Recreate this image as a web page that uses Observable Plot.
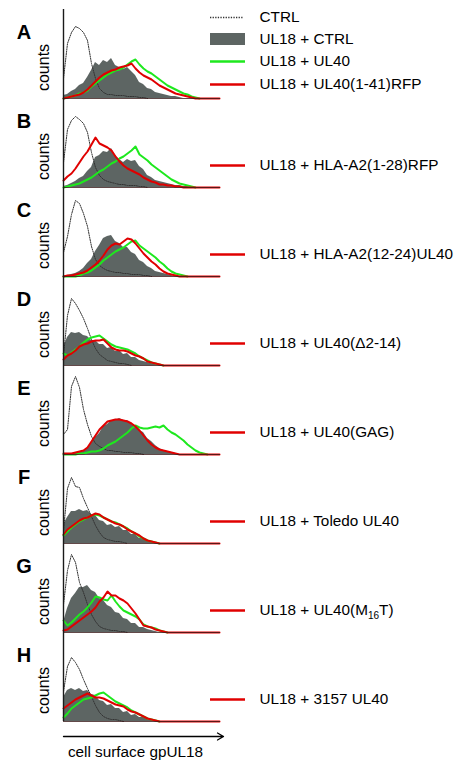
<!DOCTYPE html>
<html><head><meta charset="utf-8">
<script src="https://cdn.jsdelivr.net/npm/d3@7"></script>
<script src="https://cdn.jsdelivr.net/npm/@observablehq/plot@0.6"></script>
<style>
body{margin:0;background:#fff}
#chart{width:455px;height:762px}
</style>
</head><body><div id="chart"></div>
<script>
// ---------- data ----------
const panels = ["A","B","C","D","E","F","G","H"];
const legendLabels = ["CTRL","UL18 + CTRL","UL18 + UL40"];
const variantLabels = [
  "UL18 + UL40(1-41)RFP",
  "UL18 + HLA-A2(1-28)RFP",
  "UL18 + HLA-A2(12-24)UL40",
  "UL18 + UL40(\u03942-14)",
  "UL18 + UL40(GAG)",
  "UL18 + Toledo UL40",
  "UL18 + UL40(M16T)",
  "UL18 + 3157 UL40"
];
const axisLabel = "counts";
const xAxisLabel = "cell surface gpUL18";
// fluorescence channel bins (arbitrary units, left to right)
const bins = [0,4,8,12,16,20,24,28,32,36,40,44,48,52,56,60,64,68,72,76,
              80,84,88,92,96,100,104,108,112,116,120,124,128,132,136,140,144,148,152,156];

// CTRL (dotted)
const ctrlCounts = [
  [20,55,66,72,70,66,58,35,20,10,6,4,4,3,3,3,2,2,2,1,1,0],
  [25,58,67,71,68,64,55,35,20,12,8,6,5,4,3,3,2,2,2,1,1,0],
  [24,40,62,76,73,63,50,30,17,11,8,6,5,4,4,3,3,2,2,2,1,1,0],
  [10,50,67,62,55,47,37,26,17,11,8,5,4,3,2,2,1,0],
  [20,25,68,78,67,45,30,18,11,8,6,4,4,3,3,2,2,2,1,1,0],
  [13,55,66,57,56,45,36,27,18,11,6,4,3,2,2,1,0],
  [28,62,78,70,50,40,28,18,11,6,4,3,2,2,1,1,0],
  [30,55,64,59,52,42,33,25,16,9,5,3,2,2,1,0]
];
// UL18 + CTRL (grey filled)
const ul18CtrlCounts = [
  [3,4,7,9,13,15,21,28,36,33,38,36,40,33,31,29,31,27,23,16,14,10,9,6,5,4,3,2,2,1,0],
  [1,2,4,6,9,11,16,20,30,32,36,35,39,32,28,25,28,26,27,21,18,12,10,7,6,5,4,3,2,2,1,1,0],
  [0,1,2,3,5,8,13,17,25,31,38,40,41,35,33,29,29,24,22,16,14,10,8,5,4,3,2,1,0],
  [18,28,33,32,33,30,29,25,25,21,21,17,18,14,15,11,12,8,8,5,4,3,2,1,0],
  [0,0,1,1,2,3,6,11,17,21,28,30,34,34,36,34,34,30,29,24,22,16,13,9,6,4,3,2,1,0],
  [19,26,32,32,34,32,33,29,28,23,22,18,19,16,17,13,13,9,9,5,5,3,2,1,0],
  [10,24,34,39,45,45,47,42,40,34,32,27,25,20,19,14,13,9,9,5,5,3,2,1,0],
  [24,31,33,31,33,30,31,27,26,21,20,16,17,13,13,9,10,6,7,4,4,2,1,0]
];
// UL18 + UL40 (green)
const ul40Counts = [
  [0,1,2,3,5,6,8,12,15,18,21,24,26,28,29,31,34,37,39,34,30,27,25,22,19,16,13,11,9,7,5,4,2,1,0],
  [0,1,2,3,4,6,8,10,13,16,18,21,24,26,29,31,34,37,41,33,30,27,23,20,17,14,11,8,6,4,3,2,1,0],
  [0,0,0,0,1,3,4,6,9,12,16,19,22,25,27,29,32,35,36,31,28,25,22,19,15,12,8,5,3,2,1,0],
  [12,10,13,16,19,23,26,28,29,30,27,24,21,19,18,17,16,14,12,9,7,5,3,2,1,0],
  [0,0,0,0,1,1,2,3,3,4,6,9,11,13,16,19,22,26,29,27,26,26,27,28,27,29,25,22,20,17,14,10,7,4,2,1,0],
  [8,12,16,19,22,24,26,28,29,28,26,24,22,21,19,17,15,12,10,7,5,3,2,1,0],
  [12,7,10,14,18,21,25,30,36,35,33,32,37,31,26,22,20,18,16,13,8,6,5,4,2,1,0],
  [4,8,13,16,19,22,23,24,26,28,29,26,23,20,18,16,14,11,9,7,5,3,2,1,0]
];
// UL18 + variant (red)
const variantCounts = [
  [0,1,2,3,4,6,9,13,17,21,24,26,28,29,31,32,33,35,30,26,23,21,19,16,13,11,9,7,5,4,3,2,1,0],
  [7,11,14,19,25,31,36,43,50,44,42,40,37,31,26,22,19,17,15,13,10,8,6,5,3,3,2,2,1,1,0],
  [0,1,1,2,3,4,6,9,12,16,21,27,31,33,32,35,38,37,33,28,23,19,15,12,8,5,3,2,1,0],
  [6,10,12,15,19,21,22,24,25,25,26,22,18,16,15,15,14,12,10,9,7,4,3,2,1,0],
  [1,1,1,2,3,4,7,13,19,25,29,33,34,35,35,34,33,31,28,24,19,14,10,7,5,4,3,2,1,0],
  [9,14,17,20,23,25,26,28,30,29,26,24,22,20,19,17,14,12,10,8,5,3,2,1,0],
  [2,3,6,9,12,15,18,21,25,31,35,41,37,37,34,32,29,24,19,13,7,6,5,3,2,1,0],
  [13,16,19,22,24,26,28,26,24,24,23,21,19,17,16,15,12,10,9,7,5,3,2,1,0]
];

// ---------- build tables ----------
function toRows(series, padToEnd) {
  const out = [];
  panels.forEach((p, k) => {
    const vals = series[k];
    const n = padToEnd ? bins.length : vals.length;
    for (let i = 0; i < n; i++) out.push({panel: p, x: bins[i], y: i < vals.length ? vals[i] : 0});
  });
  return out;
}
const ctrlRows = toRows(ctrlCounts, false);
const greyRows = toRows(ul18CtrlCounts, false);
const greenRows = toRows(ul40Counts, false);
const redRows = toRows(variantCounts, true);

// ---------- layout / style constants ----------
const RED = "#e00000", GREEN = "#1ee81e", GREY = "#5d6563", INK = "#1a1a1a";
const LX1 = 147, LX2 = 182, LTX = 196;       // legend swatch & text offsets (x units)
const legendY = [81, 59, 37];                 // legend rows above baseline (panel A)
const variantY = (i) => i === 0 ? 14 : 22;
const FONT = "'Liberation Sans', Arial, Helvetica, sans-serif";
const FS = 15.3;

const chart = Plot.plot({
  width: 455, height: 762,
  marginTop: 9, marginBottom: 41, marginLeft: 63, marginRight: 235,
  x: {domain: [0, 157], axis: null},
  y: {domain: [0, 89], axis: null},
  fy: {domain: panels, padding: 0, axis: null},
  style: {fontFamily: FONT, fontSize: "15px", background: "white", color: INK, overflow: "visible"},
  marks: [
    Plot.areaY(greyRows, {x: "x", y: "y", fy: "panel", fill: GREY}),
    Plot.line(ctrlRows, {x: "x", y: "y", fy: "panel", stroke: "#333", strokeWidth: 1, strokeDasharray: "1.2,1.2"}),
    Plot.line(greenRows, {x: "x", y: "y", fy: "panel", stroke: GREEN, strokeWidth: 2}),
    Plot.line(redRows, {x: "x", y: "y", fy: "panel", stroke: RED, strokeWidth: 2}),
    Plot.ruleY(panels, {fy: d => d, y: () => 0, stroke: "#3a1a1a", strokeWidth: 0.8}),
    Plot.ruleX(panels, {fy: d => d, x: () => 0, stroke: INK, strokeWidth: 1.4}),
    // panel letters
    Plot.text(panels, {fy: d => d, text: d => d, frameAnchor: "bottom-left", dx: -39.5, dy: -60,
      textAnchor: "middle", fontWeight: "bold", fontSize: 20, fill: "#000"}),
    // counts labels
    Plot.text(panels, {fy: d => d, text: () => axisLabel, frameAnchor: "bottom-left", dx: -15, dy: -31,
      rotate: -90, textAnchor: "middle", fontSize: 16, fill: "#000"}),
    // legend (panel A)
    Plot.ruleY([legendLabels[0]], {fy: () => "A", y: () => legendY[0], x1: () => LX1, x2: () => LX2 - 2,
      stroke: "#333", strokeWidth: 1.3, strokeDasharray: "1.3,1.3"}),
    Plot.rect([legendLabels[1]], {fy: () => "A", x1: () => LX1, x2: () => LX2, y1: () => legendY[1] - 6, y2: () => legendY[1] + 6, fill: GREY}),
    Plot.ruleY([legendLabels[2]], {fy: () => "A", y: () => legendY[2], x1: () => LX1, x2: () => LX2, stroke: GREEN, strokeWidth: 2.5}),
    Plot.text(legendLabels, {fy: () => "A", x: () => LTX, y: (d, i) => legendY[i], text: d => d,
      textAnchor: "start", fontSize: FS, fill: "#000"}),
    // variant legend in each panel
    Plot.ruleY(panels, {fy: d => d, y: (d, i) => variantY(i), x1: () => LX1, x2: () => LX2, stroke: RED, strokeWidth: 2.5}),
    Plot.text(panels, {fy: d => d, x: () => LTX, y: (d, i) => variantY(i), text: (d, i) => variantLabels[i],
      textAnchor: "start", fontSize: FS, fill: "#000"}),
    // x-axis arrow and label
    Plot.arrow(["H"], {fy: d => d, x1: () => 0, x2: () => 160, y1: () => -15, y2: () => -15,
      stroke: "#000", strokeWidth: 1.3, headLength: 8}),
    Plot.text(["H"], {fy: d => d, x: () => 72, y: () => -31, text: () => xAxisLabel,
      textAnchor: "middle", fontSize: FS, fill: "#000"})
  ]
});
document.getElementById("chart").appendChild(chart);

// subscript in "M16T"
chart.querySelectorAll("text").forEach(t => {
  if (t.textContent === "UL18 + UL40(M16T)") {
    t.textContent = "";
    const ns = "http://www.w3.org/2000/svg";
    const a = document.createElementNS(ns, "tspan"); a.textContent = "UL18 + UL40(M";
    const b = document.createElementNS(ns, "tspan"); b.textContent = "16";
    b.setAttribute("font-size", "10"); b.setAttribute("dy", "4");
    const c = document.createElementNS(ns, "tspan"); c.textContent = "T)"; c.setAttribute("dy", "-4");
    t.append(a, b, c);
  }
});
</script>
</body></html>
